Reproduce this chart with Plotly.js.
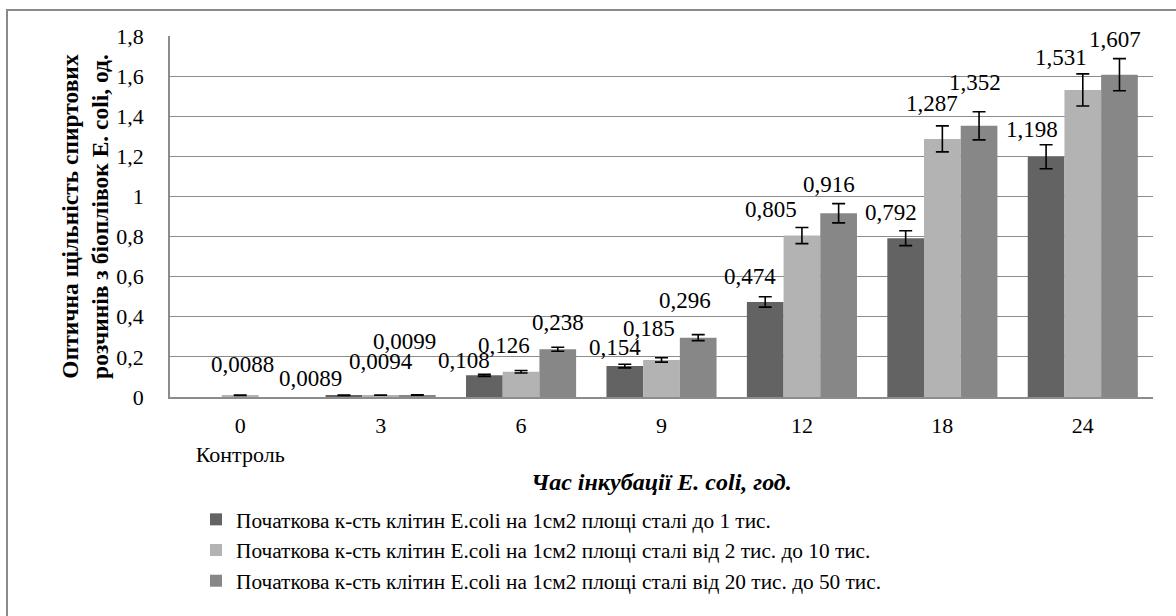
<!DOCTYPE html>
<html>
<head>
<meta charset="utf-8">
<script src="https://cdn.plot.ly/plotly-3.0.1.min.js"></script>
<style>
html,body{margin:0;padding:0;background:#fff;}
#chart{width:1176px;height:616px;}
</style>
</head>
<body>
<div id="chart"></div>
<script>
// ---- data ----
const hours = ["0", "3", "6", "9", "12", "18", "24"];
const hourLabels = ["0<br>Контроль", "3", "6", "9", "12", "18", "24"];
const seriesNames = [
  "Початкова к-сть клітин E.coli на 1см2 площі сталі до 1 тис.",
  "Початкова к-сть клітин E.coli на 1см2 площі сталі від 2 тис. до 10 тис.",
  "Початкова к-сть клітин E.coli на 1см2 площі сталі від 20 тис. до 50 тис."
];
const s1 = [null, 0.0089, 0.108, 0.154, 0.474, 0.792, 1.198];
const s2 = [0.0088, 0.0094, 0.126, 0.185, 0.805, 1.287, 1.531];
const s3 = [null, 0.0099, 0.238, 0.296, 0.916, 1.352, 1.607];
const e1 = [0, 0.0008, 0.005, 0.009, 0.026, 0.037, 0.06];
const e2 = [0.0008, 0.0008, 0.006, 0.011, 0.04, 0.065, 0.08];
const e3 = [0, 0.0008, 0.01, 0.015, 0.048, 0.07, 0.08];
const yTicks = [0, 0.2, 0.4, 0.6, 0.8, 1, 1.2, 1.4, 1.6, 1.8];

// ---- styling ----
const FONT = 'Liberation Serif';
const colors = ['#636363', '#b3b3b3', '#878787'];
const values = [s1, s2, s3];
const errs = [e1, e2, e3];
// label nudges (px) to mimic the hand-placed data labels: [dx, dy above error bar top]
const labelNudge = [
  [[0,0], [-33,17], [-20,14], [-10,17], [-15,20], [-15,18], [-14,15]],
  [[2,31], [0,33], [-17,25], [-13,29], [-31,18], [-10,22], [-22,16]],
  [[0,0], [-13,53], [0,25], [-13,34], [-10,19], [-4,29], [-4,19]]
];
const groupPx = 983 / hours.length;
const bargap = 0.216;
const barPx = groupPx * (1 - bargap) / 3;

const traces = values.map((v, i) => ({
  type: 'bar',
  name: seriesNames[i],
  x: hours,
  y: v,
  marker: {color: colors[i], line: {width: 0}},
  error_y: {type: 'data', array: errs[i], visible: true, color: '#000', thickness: 1.6, width: 6.5},
  hoverinfo: 'x+y'
}));

const annotations = [];
values.forEach((v, i) => {
  v.forEach((val, j) => {
    if (val === null) return;
    const n = labelNudge[i][j];
    annotations.push({
      x: j, y: val + errs[i][j], xref: 'x', yref: 'y',
      text: String(val).replace('.', ','),
      showarrow: false, xanchor: 'center', yanchor: 'middle',
      xshift: (i - 1) * barPx + n[0], yshift: n[1],
      font: {family: FONT, size: 23, color: '#000'}
    });
  });
});

const L = 170, R = 23, T = 36, B = 219;
const pw = 1176 - L - R, ph = 616 - T - B;
const px2x = p => (p - L) / pw;
const py2y = p => (616 - B - p) / ph;

const layout = {
  width: 1176, height: 616,
  margin: {l: L, r: R, t: T, b: B, pad: 0},
  paper_bgcolor: '#fff', plot_bgcolor: '#fff',
  font: {family: FONT, size: 22, color: '#000'},
  separators: ', ',
  barmode: 'group', bargap: bargap, bargroupgap: 0,
  showlegend: true,
  legend: {
    orientation: 'v', x: px2x(196), y: py2y(499), xanchor: 'left', yanchor: 'top',
    font: {family: FONT, size: 21.3, color: '#000'}, bgcolor: 'rgba(0,0,0,0)',
    itemwidth: 30, tracegroupgap: 0, traceorder: 'normal'
  },
  xaxis: {
    type: 'category', categoryorder: 'array', categoryarray: hours,
    range: [-0.5, hours.length - 0.5],
    tickvals: hours, ticktext: hourLabels, tickangle: 0,
    showgrid: false, zeroline: false,
    showline: true, linecolor: '#8c8c8c', linewidth: 1.5,
    ticks: '', ticklabelstandoff: 8,
    tickfont: {family: FONT, size: 22},
    title: {text: '<b><i>Час інкубації E. coli, год.</i></b>', font: {family: FONT, size: 24}, standoff: 7},
    automargin: false, fixedrange: true
  },
  yaxis: {
    range: [0, 1.8], tickvals: yTicks,
    showgrid: true, gridcolor: '#8c8c8c', gridwidth: 1.3,
    zeroline: false, showline: true, linecolor: '#8c8c8c', linewidth: 1.5,
    ticks: '', ticklabelstandoff: 20,
    tickfont: {family: FONT, size: 22},
    title: {text: '<b>Оптична щільність спиртових<br>розчинів з біоплівок E. coli, од.</b>', font: {family: FONT, size: 23.5}, standoff: 1},
    automargin: false, fixedrange: true
  },
  annotations: annotations,
  shapes: [{
    type: 'rect', xref: 'paper', yref: 'paper',
    x0: px2x(7), x1: px2x(1190), y0: py2y(640), y1: py2y(10),
    line: {color: '#8a8a8a', width: 2}, fillcolor: 'rgba(0,0,0,0)', layer: 'below'
  }]
};

Plotly.newPlot('chart', traces, layout, {displayModeBar: false, staticPlot: false});
</script>
</body>
</html>
